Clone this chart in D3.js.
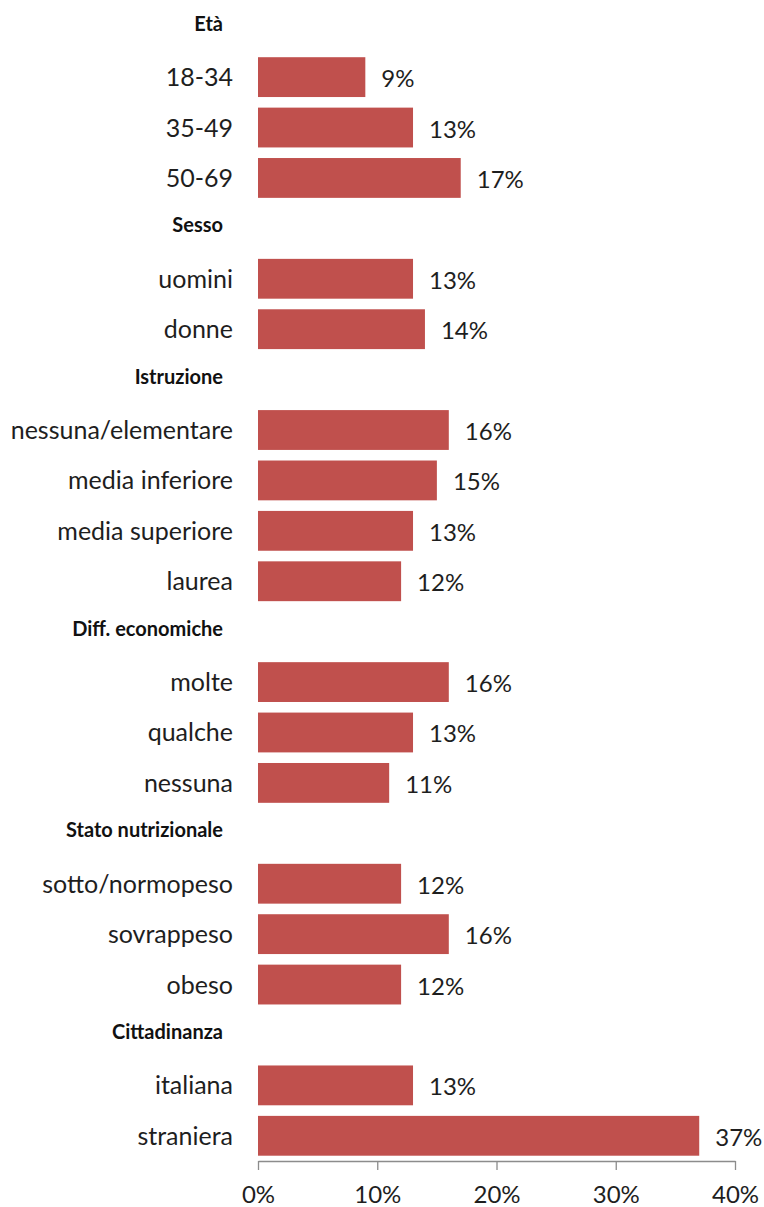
<!DOCTYPE html>
<html>
<head>
<meta charset="utf-8">
<script src="https://cdn.jsdelivr.net/npm/d3@7"></script>
<style>
  html, body { margin: 0; padding: 0; background: #fff; }
  svg { display: block; font-family: Lato, "Open Sans", sans-serif; }
</style>
</head>
<body>
<svg id="chart" width="764" height="1207"></svg>
<script>
// Group headings, the categories in each group and their percentages
const groups = ["Età", "Sesso", "Istruzione", "Diff. economiche", "Stato nutrizionale", "Cittadinanza"];
const categories = [
  ["18-34", "35-49", "50-69"],
  ["uomini", "donne"],
  ["nessuna/elementare", "media inferiore", "media superiore", "laurea"],
  ["molte", "qualche", "nessuna"],
  ["sotto/normopeso", "sovrappeso", "obeso"],
  ["italiana", "straniera"]
];
const values = [
  [9, 13, 17],
  [13, 14],
  [16, 15, 13, 12],
  [16, 13, 11],
  [12, 16, 12],
  [13, 37]
];
const tickValues = [0, 10, 20, 30, 40];

// Flatten into rows: one heading row per group followed by its bars
const rows = [];
groups.forEach((g, gi) => {
  rows.push({ key: "h" + gi, label: g, header: true });
  categories[gi].forEach((c, ci) => {
    rows.push({ key: "c" + gi + "_" + ci, label: c, value: values[gi][ci], header: false });
  });
});

const svg = d3.select("#chart");
const x = d3.scaleLinear().domain([0, 40]).range([258, 735]);
const y = d3.scaleBand()
  .domain(rows.map(r => r.key))
  .range([1.5, 1161])
  .paddingInner(0.21)
  .paddingOuter(0.105);

const barRows = rows.filter(r => !r.header);
const headRows = rows.filter(r => r.header);

// Bars
svg.append("g").selectAll("rect")
  .data(barRows)
  .join("rect")
  .attr("x", x(0))
  .attr("y", d => y(d.key))
  .attr("width", d => x(d.value) - x(0))
  .attr("height", y.bandwidth())
  .attr("fill", "#C0504D");

// Value labels
svg.append("g").selectAll("text")
  .data(barRows)
  .join("text")
  .attr("x", d => x(d.value) + 16)
  .attr("y", d => y(d.key) + y.bandwidth() / 2 + 10)
  .attr("font-size", 24)
  .attr("fill", "#1e1e1e")
  .text(d => d.value + "%");

// Category labels
svg.append("g").selectAll("text")
  .data(barRows)
  .join("text")
  .attr("x", 233)
  .attr("y", d => y(d.key) + y.bandwidth() / 2 + 9)
  .attr("text-anchor", "end")
  .attr("font-size", 25)
  .attr("fill", "#1e1e1e")
  .text(d => d.label);

// Group headings
svg.append("g").selectAll("text")
  .data(headRows)
  .join("text")
  .attr("x", 223)
  .attr("y", d => y(d.key) + y.bandwidth() / 2 + 4)
  .attr("text-anchor", "end")
  .attr("font-size", 20)
  .attr("font-weight", "bold")
  .attr("fill", "#111")
  .text(d => d.label);

// Bottom axis
const axis = svg.append("g")
  .attr("transform", "translate(0,1161)")
  .call(d3.axisBottom(x)
    .tickValues(tickValues)
    .tickSize(9)
    .tickSizeOuter(0)
    .tickPadding(16)
    .tickFormat(d => d + "%"));
axis.select(".domain").attr("stroke", "#8c8c8c").attr("stroke-width", 1.3);
axis.selectAll(".tick line").attr("stroke", "#8c8c8c").attr("stroke-width", 1.3);
axis.selectAll(".tick text")
  .attr("font-size", 24)
  .attr("font-family", "Lato, 'Open Sans', sans-serif")
  .attr("fill", "#1e1e1e");
</script>
</body>
</html>
